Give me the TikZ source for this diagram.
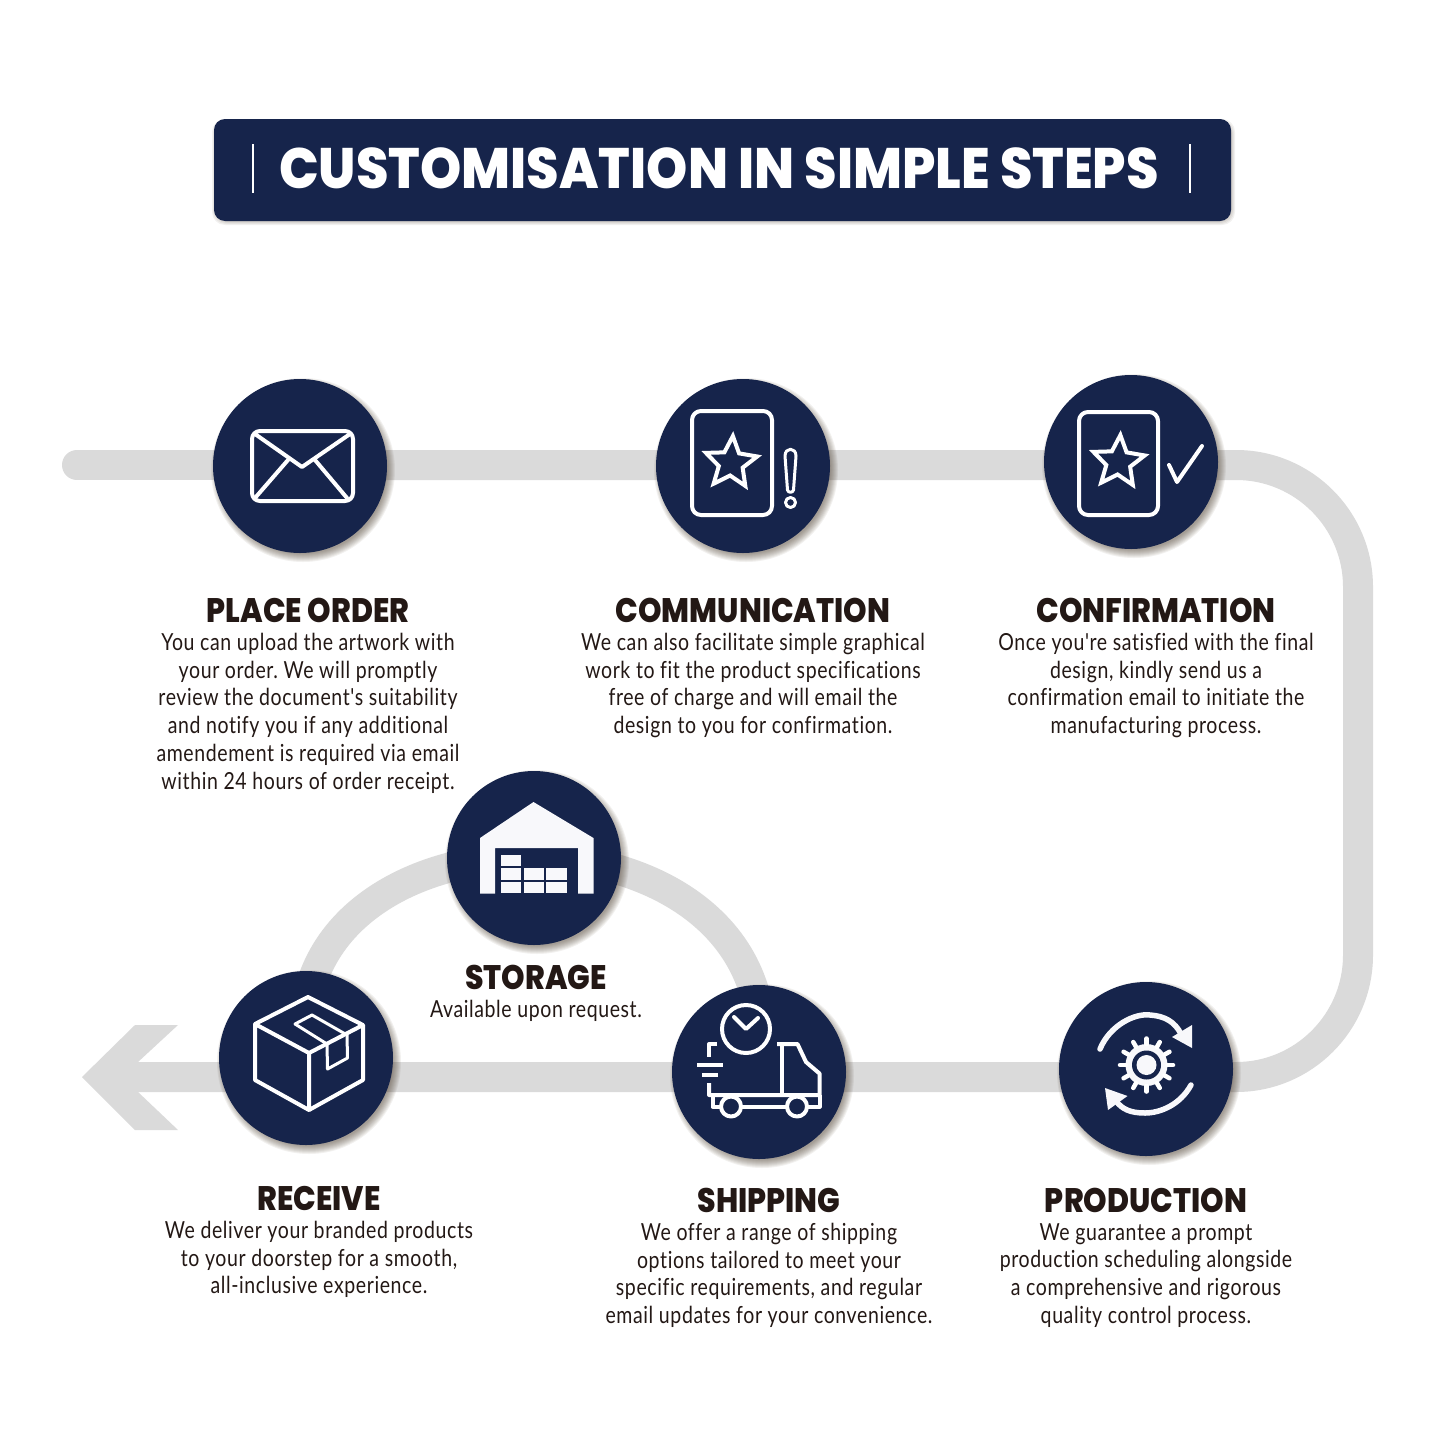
\documentclass[tikz,border=0pt]{standalone}
\usepackage{fontspec}
\usetikzlibrary{shapes.geometric,backgrounds}
\newfontfamily\bodyfont[FakeStretch=0.83,LetterSpace=2.6,Ligatures={NoCommon}]{Lato}
\newfontfamily\headfont[FakeStretch=0.88]{Poppins ExtraBold}
\newfontfamily\bannerfont[FakeStretch=0.92]{Poppins ExtraBold}
\definecolor{navy}{HTML}{16244B}
\definecolor{iconwhite}{HTML}{F8F8FB}
\definecolor{trackgray}{HTML}{DADADA}
\definecolor{inkdark}{HTML}{231815}
\definecolor{shadowtone}{HTML}{4A3A2A}
\frenchspacing
\tikzset{
  track/.style={draw=trackgray,line width=30pt},
  stepdot/.style={circle,fill=navy,minimum size=174pt,inner sep=0pt},
  softedge/.style={fill=shadowtone,fill opacity=0.07},
  icon/.style={draw=white,line width=4pt,line join=round,line cap=round},
  starmark/.style={star,star points=5,star point ratio=2.15,draw=white,line width=4pt,
    minimum size=54pt,inner sep=0pt,rotate=-4,line join=miter},
  steptitle/.style={text=inkdark,font=\headfont\fontsize{34}{36}\selectfont,inner sep=0pt},
  steptext/.style={text=inkdark,font=\bodyfont\fontsize{23.5}{27.7}\selectfont,align=center,anchor=north,inner sep=0pt},
}
\begin{document}
\begin{tikzpicture}[x=1pt,y=-1pt]
  \useasboundingbox (0,0) rectangle (1445,1445);

  % banner
  \node[fill=navy,rounded corners=11pt,minimum width=1017pt,minimum height=102pt,inner sep=0pt] (banner) at (722.5,170) {};
  \node[text=white,font=\bannerfont\fontsize{57}{60}\selectfont,inner sep=0pt] (bannertext) at (719,168.5) {CUSTOMISATION IN SIMPLE STEPS};
  \draw[white,line width=2pt] (253,144) -- (253,193);
  \draw[white,line width=2pt] (1190,144) -- (1190,193);

  % step circles
  \node[stepdot] (order) at (300,466) {};
  \node[stepdot] (comm) at (743,466) {};
  \node[stepdot] (conf) at (1131,462) {};
  \node[stepdot] (storage) at (534,858) {};
  \node[stepdot] (recv) at (306,1058) {};
  \node[stepdot] (ship) at (759,1072) {};
  \node[stepdot] (prod) at (1146,1069) {};

  % grey route and soft shadows behind the circles
  \begin{pgfonlayer}{background}
    \fill[white] (0,0) rectangle (1445,1445);
    \coordinate (routestart) at (77,465);
    \coordinate (ne) at (1358,465);
    \coordinate (se) at (1358,1077);
    \coordinate (routeend) at (136,1077);
    \draw[track,line cap=round] (routestart) -- (order.center |- routestart);
    \draw[track,rounded corners=122pt] (order.center |- routestart) -- (ne) -- (se) -- (routeend);
    \draw[track] (recv.center) .. controls (270,788) and (800,788) .. (ship.center);
    \fill[trackgray] (82,1077) -- (135,1025) -- (178,1025) -- (138,1062) -- (138,1092) -- (178,1130) -- (135,1130) -- cycle;
    \foreach \stepname in {order,comm,conf,storage,recv,ship,prod}
      \foreach \r in {92,91,...,84}
        \fill[softedge] (\stepname.center) ++(3,4) circle (\r);
    \foreach \r in {-4,-3,...,4}
      \fill[softedge,rounded corners=13pt] (214-\r,119-\r) ++(2,4) rectangle (1231+\r,221+\r);
  \end{pgfonlayer}

  % envelope
  \draw[icon,rounded corners=8pt] (252,431) rectangle (353,501);
  \draw[icon] (255,434) -- (302,467) -- (350,434);
  \draw[icon] (288,460) -- (255,498);
  \draw[icon] (315,460) -- (347,498);

  % card and exclamation mark
  \draw[icon,rounded corners=9pt] (692,411) rectangle (772,515);
  \node[starmark] (commstar) at (731,463) {};
  \draw[icon,line width=3pt] (785,456) .. controls (785,447) and (796,447) .. (796,456) -- (793.5,490) .. controls (793,493) and (788,493) .. (787.5,490) -- cycle;
  \draw[icon,line width=3pt] (790.5,502.5) circle (5);

  % card and tick
  \draw[icon,rounded corners=9pt] (1079,412) rectangle (1158,515);
  \node[starmark] (confstar) at (1118.5,462) {};
  \draw[icon] (1169,465) -- (1177,482) -- (1202,446);

  % warehouse
  \fill[iconwhite] (533.5,802) -- (593.5,838) -- (593.5,893.5) -- (578,893.5) -- (578,848) -- (495,848) -- (495,893.5) -- (480,893.5) -- (480,838) -- cycle;
  \foreach \x in {500.7,523.5,546}
    \foreach \y in {868.3,881.7}
      \fill[iconwhite] (\x,\y) rectangle ++(20.5,11.3);
  \fill[iconwhite] (500.7,854.5) rectangle ++(20.5,11.3);

  % parcel
  \draw[icon,line cap=butt] (309,1053) -- (255,1024) -- (308,997) -- (363,1025) -- (309,1053) -- (309,1110) -- (255,1080) -- (255,1024);
  \draw[icon,line cap=butt] (309,1110) -- (363,1080) -- (363,1025);
  \draw[icon,line width=3pt] (327,1044) -- (295,1024) -- (312,1015) -- (347,1035) -- (347.5,1058) -- (327.5,1069) -- cycle;

  % truck and clock
  \draw[icon] (746,1029) circle (24);
  \draw[icon] (734,1017) -- (746,1029) -- (758,1018);
  \draw[icon,line cap=butt] (717,1044) -- (709,1044) -- (709,1057);
  \draw[icon,line cap=butt] (697,1065) -- (723,1065);
  \draw[icon,line cap=butt] (702,1075) -- (718,1075);
  \draw[icon,line cap=butt] (709,1083) -- (709,1095) -- (819.5,1095) -- (819.5,1073.5) -- (806,1062) -- (797.5,1044) -- (777,1044);
  \draw[icon,line cap=butt] (782,1044) -- (782,1095);
  \draw[icon] (731,1106.5) circle (10);
  \draw[icon] (797,1106.5) circle (10);
  \draw[icon,line cap=butt] (741,1106.5) -- (787,1106.5);
  \draw[icon,line cap=butt] (807,1106.5) -- (819.5,1106.5) -- (819.5,1095);
  \draw[icon,line cap=butt] (712.5,1095) -- (712.5,1106.5) -- (721,1106.5);

  % gear and turning arrows
  \fill[iconwhite] (1146.5,1065) circle (21);
  \foreach \a in {0,30,...,330}
    \draw[icon,line width=4.5pt] (1146.5,1065) ++(\a:21) -- ++(\a:5.5);
  \fill[navy] (1146.5,1065) circle (14.5);
  \fill[iconwhite] (1146.5,1065) circle (10);
  \draw[icon,line width=5.5pt,iconwhite] (1100,1049) .. controls (1110,1025) and (1135,1013) .. (1150,1015) .. controls (1165,1016) and (1175,1022) .. (1181,1034);
  \fill[iconwhite] (1192,1025) -- (1192,1048) -- (1172,1037) -- cycle;
  \draw[icon,line width=5.5pt,iconwhite] (1191,1085) .. controls (1180,1105) and (1160,1113) .. (1145,1113) .. controls (1130,1113) and (1122,1109) .. (1116,1101);
  \fill[iconwhite] (1105,1088) -- (1108,1110) -- (1127.5,1096) -- cycle;

  % captions
  \node[steptitle] (ordertitle) at (308,610) {PLACE ORDER};
  \node[steptext] (ordertext) at (308,633) {You can upload the artwork with\\your order. We will promptly\\review the document's suitability\\and notify you if any additional\\amendement is required via email\\within 24 hours of order receipt.};
  \node[steptitle] (commtitle) at (753,610) {COMMUNICATION};
  \node[steptext] (commtext) at (753,633) {We can also facilitate simple graphical\\work to fit the product specifications\\free of charge and will email the\\design to you for confirmation.};
  \node[steptitle] (conftitle) at (1156,610) {CONFIRMATION};
  \node[steptext] (conftext) at (1156,633) {Once you're satisfied with the final\\design, kindly send us a\\confirmation email to initiate the\\manufacturing process.};
  \node[steptitle] (storagetitle) at (536,977) {STORAGE};
  \node[steptext] (storagetext) at (536,1000) {Available upon request.};
  \node[steptitle] (recvtitle) at (319,1198) {RECEIVE};
  \node[steptext] (recvtext) at (319,1221) {We deliver your branded products\\to your doorstep for a smooth,\\all-inclusive experience.};
  \node[steptitle] (shiptitle) at (769,1200) {SHIPPING};
  \node[steptext] (shiptext) at (769,1223) {We offer a range of shipping\\options tailored to meet your\\specific requirements, and regular\\email updates for your convenience.};
  \node[steptitle] (prodtitle) at (1146,1200) {PRODUCTION};
  \node[steptext] (prodtext) at (1146,1223) {We guarantee a prompt\\production scheduling alongside\\a comprehensive and rigorous\\quality control process.};
\end{tikzpicture}
\end{document}
